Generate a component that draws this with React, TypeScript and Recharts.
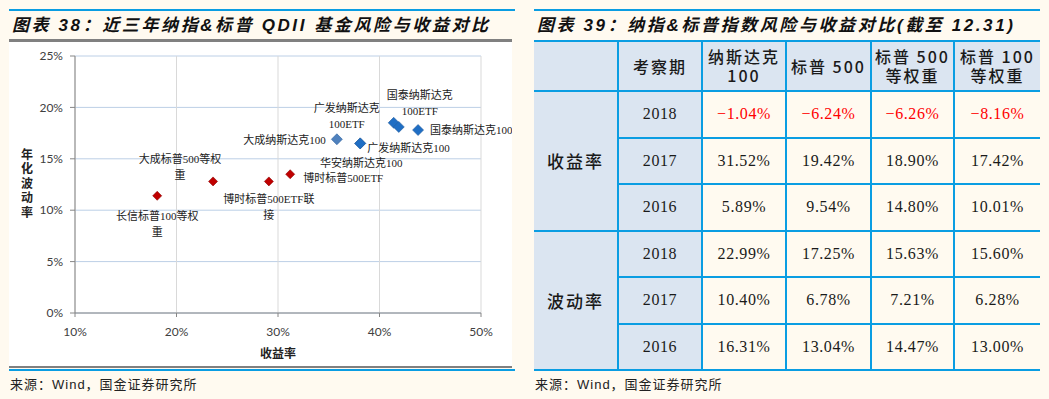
import React from 'react'
import { ScatterChart, Scatter, XAxis, YAxis, CartesianGrid } from 'recharts'

// Figure 38: QDII funds, return vs annualised volatility (%)
const FUNDS = [
  '长信标普100等权重',
  '大成标普500等权重',
  '博时标普500ETF联接',
  '博时标普500ETF',
  '大成纳斯达克100',
  '广发纳斯达克100',
  '华安纳斯达克100',
  '广发纳斯达克100ETF',
  '国泰纳斯达克100ETF',
  '国泰纳斯达克100',
]
const FUND_RETURN = [18.1, 23.6, 29.1, 31.2, 35.8, 38.1, 38.1, 41.4, 41.9, 43.8]
const FUND_VOL = [11.4, 12.8, 12.8, 13.5, 16.9, 16.5, 16.5, 18.5, 18.1, 17.8]
const FUND_TRACK = ['SPX', 'SPX', 'SPX', 'SPX', 'NDX', 'NDX', 'NDX', 'NDX', 'NDX', 'NDX']

const X_TICKS = [10, 20, 30, 40, 50]
const Y_TICKS = [0, 5, 10, 15, 20, 25]

// Figure 39: index return / volatility table (%)
const YEARS = ['2018', '2017', '2016']
const INDEX_NAMES = ['纳斯达克100', '标普 500', '标普 500\n等权重', '标普 100\n等权重']
const NDX_RET = [-1.04, 31.52, 5.89]
const SPX_RET = [-6.24, 19.42, 9.54]
const SPX_EW_RET = [-6.26, 18.9, 14.8]
const OEX_EW_RET = [-8.16, 17.42, 10.01]
const NDX_VOL = [22.99, 10.4, 16.31]
const SPX_VOL = [17.25, 6.78, 13.04]
const SPX_EW_VOL = [15.63, 7.21, 14.47]
const OEX_EW_VOL = [15.6, 6.28, 13.0]

// label placement (dx/dy from point, first-line length)
const LABEL_LAYOUT: Record<string, { dx: number; dy: number; anchor: string; split?: number }> = {
  '长信标普100等权重': { dx: 0, dy: 20, anchor: 'middle', split: 9 },
  '大成标普500等权重': { dx: -33, dy: -22, anchor: 'middle', split: 9 },
  '博时标普500ETF联接': { dx: 0, dy: 18, anchor: 'middle', split: 11 },
  '博时标普500ETF': { dx: 13, dy: 4, anchor: 'start' },
  '大成纳斯达克100': { dx: -11, dy: 1, anchor: 'end' },
  '广发纳斯达克100': { dx: 7, dy: 5, anchor: 'start' },
  '华安纳斯达克100': { dx: 1, dy: 20, anchor: 'middle' },
  '广发纳斯达克100ETF': { dx: -47, dy: -15, anchor: 'middle', split: 6 },
  '国泰纳斯达克100ETF': { dx: 21, dy: -32, anchor: 'middle', split: 6 },
  '国泰纳斯达克100': { dx: 12, dy: 0, anchor: 'start' },
}
const POINT_COLOR: Record<string, string> = { '大成纳斯达克100': '#4f81bd' }

const BG = '#fffaf0'
const BLUE = '#0a9de2'
const HEAD_BG = '#dbe5f1'
const CJK = '"Noto Sans CJK SC", sans-serif'
const SERIF = '"Liberation Serif", "Noto Sans CJK SC", serif'

const points = FUNDS.map((name, i) => ({
  name,
  ret: FUND_RETURN[i],
  vol: FUND_VOL[i],
  track: FUND_TRACK[i],
}))
const spxPoints = points.filter((p) => p.track === 'SPX')
const ndxPoints = points.filter((p) => p.track === 'NDX')

function FundMark(props: any) {
  const { cx, cy, payload, color, edge, r } = props
  if (cx == null || cy == null) return null
  const lay = LABEL_LAYOUT[payload.name] || { dx: 8, dy: 0, anchor: 'start' }
  const name: string = payload.name
  const lines = lay.split ? [name.slice(0, lay.split), name.slice(lay.split)] : [name]
  const fill = POINT_COLOR[name] || color
  return (
    <g>
      <polygon
        points={`${cx},${cy - r} ${cx + r},${cy} ${cx},${cy + r} ${cx - r},${cy}`}
        fill={fill}
        stroke={edge}
        strokeWidth={0.6}
      />
      {lines.map((t, k) => (
        <text
          key={k}
          x={cx + lay.dx}
          y={cy + lay.dy + k * 16}
          dy="0.36em"
          textAnchor={lay.anchor as any}
          fontSize={11}
          fontFamily={SERIF}
          fill="#222"
        >
          {t}
        </text>
      ))}
    </g>
  )
}

// vertical, upright CJK axis title
function YTitle(props: any) {
  const vb = props.viewBox || { x: 0, y: 14, width: 66, height: 257 }
  const cy = vb.y + vb.height / 2
  return (
    <text
      x={18}
      y={cy}
      textAnchor="middle"
      fontSize={12}
      fontWeight={700}
      fontFamily={CJK}
      fill="#222"
      style={{ writingMode: 'vertical-rl', letterSpacing: 2.5 }}
    >
      年化波动率
    </text>
  )
}

const pct = (v: number) => `${v}%`

function RiskReturnScatter() {
  const tick = { fill: '#404040', fontSize: 12, fontFamily: 'Lato, sans-serif' }
  return (
    <ScatterChart
      width={503}
      height={324}
      margin={{ top: 14, right: 31, bottom: 0, left: 0 }}
      style={{ background: '#fff' }}
    >
      <CartesianGrid vertical={false} stroke="#bccfe6" />
      <CartesianGrid horizontal={false} stroke="#d9d9d9" />
      <XAxis
        type="number"
        dataKey="ret"
        domain={[10, 50]}
        ticks={X_TICKS}
        tickFormatter={pct}
        height={53}
        stroke="#868686"
        tick={tick}
        tickSize={4}
        tickMargin={10}
        label={{
          value: '收益率',
          position: 'insideBottom',
          offset: 8,
          fill: '#222',
          fontSize: 12,
          fontWeight: 700,
          fontFamily: CJK,
        }}
      />
      <YAxis
        type="number"
        dataKey="vol"
        domain={[0, 25]}
        ticks={Y_TICKS}
        tickFormatter={pct}
        width={66}
        stroke="#868686"
        tick={tick}
        tickSize={5}
        tickMargin={7}
        label={{ content: (p: any) => <YTitle {...p} /> }}
      />
      <Scatter
        data={spxPoints}
        isAnimationActive={false}
        shape={(p: any) => <FundMark {...p} color="#c00000" edge="#8a0000" r={4.5} />}
      />
      <Scatter
        data={ndxPoints}
        isAnimationActive={false}
        shape={(p: any) => <FundMark {...p} color="#1f6ec4" edge="#2a5f9e" r={5.5} />}
      />
    </ScatterChart>
  )
}

const fmt = (v: number) => `${v.toFixed(2).replace('-', '−')}%`

function IndexTable() {
  const groups = [
    { label: '收益率', series: [NDX_RET, SPX_RET, SPX_EW_RET, OEX_EW_RET] },
    { label: '波动率', series: [NDX_VOL, SPX_VOL, SPX_EW_VOL, OEX_EW_VOL] },
  ]
  const border = `2px solid ${BLUE}`
  const cell = (col: number, extra: React.CSSProperties = {}): React.CSSProperties => ({
    borderTop: border,
    borderBottom: border,
    borderLeft: col === 0 ? 'none' : border,
    borderRight: col === 5 ? 'none' : border,
    padding: 0,
    textAlign: 'center',
    verticalAlign: 'middle',
    ...extra,
  })
  const head: React.CSSProperties = {
    background: HEAD_BG,
    fontFamily: CJK,
    fontWeight: 500,
    fontSize: 16,
    letterSpacing: 2,
    lineHeight: '19px',
    color: '#1a1a1a',
    whiteSpace: 'pre-line',
  }
  const num: React.CSSProperties = {
    fontFamily: SERIF,
    fontSize: 16,
    letterSpacing: 0.6,
    color: '#1a1a1a',
  }
  return (
    <table
      style={{
        position: 'absolute',
        left: 534,
        top: 40,
        width: 506,
        borderCollapse: 'collapse',
        tableLayout: 'fixed',
      }}
    >
      <colgroup>
        {[84, 84, 84, 85, 83, 86].map((w, i) => (
          <col key={i} style={{ width: w }} />
        ))}
      </colgroup>
      <thead>
        <tr style={{ height: 50 }}>
          <th style={cell(0, head)} />
          <th style={cell(1, head)}>考察期</th>
          {INDEX_NAMES.map((n, i) => (
            <th key={n} style={cell(i + 2, head)}>
              {n}
            </th>
          ))}
        </tr>
      </thead>
      <tbody>
        {groups.map((g) =>
          YEARS.map((y, r) => (
            <tr key={g.label + y} style={{ height: 46.5 }}>
              {r === 0 && (
                <td rowSpan={3} style={cell(0, { ...head, fontSize: 17 })}>
                  {g.label}
                </td>
              )}
              <td style={cell(1, { ...num, background: HEAD_BG })}>{y}</td>
              {g.series.map((s, c) => (
                <td
                  key={c}
                  style={cell(c + 2, { ...num, background: BG, color: s[r] < 0 ? '#ff0000' : '#1a1a1a' })}
                >
                  {fmt(s[r])}
                </td>
              ))}
            </tr>
          ))
        )}
      </tbody>
    </table>
  )
}

const titleStyle: React.CSSProperties = {
  position: 'absolute',
  top: 12,
  height: 27,
  lineHeight: '27px',
  fontFamily: '"Liberation Sans", "Noto Sans CJK SC", sans-serif',
  fontStyle: 'italic',
  fontWeight: 700,
  fontSize: 17,
  letterSpacing: 2.6,
  color: '#111',
  whiteSpace: 'nowrap',
}

const sourceStyle: React.CSSProperties = {
  position: 'absolute',
  top: 374,
  fontFamily: '"Liberation Sans", "Noto Sans CJK SC", sans-serif',
  fontSize: 13,
  letterSpacing: 1,
  color: '#222',
  whiteSpace: 'nowrap',
}

const bar = (left: number, top: number, width: number, height: number, color: string) => (
  <div style={{ position: 'absolute', left, top, width, height, background: color }} />
)

export default function App() {
  return (
    <div
      style={{
        position: 'absolute',
        left: 0,
        top: 0,
        width: 1049,
        height: 399,
        background: BG,
        overflow: 'hidden',
      }}
    >
      {/* left: figure 38 */}
      {bar(9, 9, 506, 2, BLUE)}
      <div style={{ ...titleStyle, left: 12 }}>图表 38：近三年纳指&amp;标普 QDII 基金风险与收益对比</div>
      {bar(9, 39, 503, 3, '#808080')}
      <div style={{ position: 'absolute', left: 9, top: 42 }}>
        <RiskReturnScatter />
      </div>
      {bar(9, 366, 503, 2, '#808080')}
      {bar(9, 369, 506, 2, BLUE)}
      <div style={{ ...sourceStyle, left: 10 }}>来源：Wind，国金证券研究所</div>

      {/* right: figure 39 */}
      {bar(534, 9, 506, 2, BLUE)}
      <div style={{ ...titleStyle, left: 537 }}>图表 39：纳指&amp;标普指数风险与收益对比(截至 12.31)</div>
      <IndexTable />
      <div style={{ ...sourceStyle, left: 535 }}>来源：Wind，国金证券研究所</div>
    </div>
  )
}
